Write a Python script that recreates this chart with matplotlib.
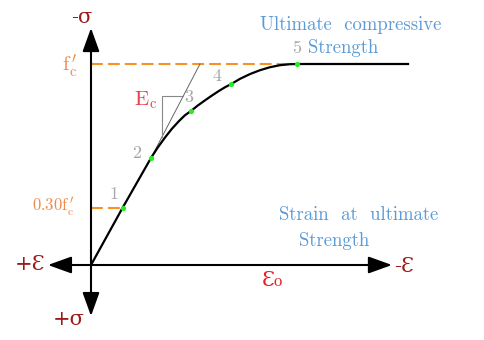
"""

Concrete stress-strain curve sketch (compression up, strain to the right).

"""

import matplotlib.pyplot as plt
import numpy as np

plt.rcParams['mathtext.fontset'] = 'cm'

# strain / eps0 and stress / f'c
strain = [0.0, 0.153, 0.291, 0.325, 0.359, 0.393, 0.427, 0.456, 0.485,
          0.519, 0.553, 0.587, 0.621, 0.650, 0.680, 0.723, 0.772, 0.820,
          0.869, 0.917, 0.966, 1.0, 1.539]
stress = [0.0, 0.284, 0.532, 0.586, 0.634, 0.678, 0.716, 0.745, 0.766,
          0.794, 0.819, 0.843, 0.866, 0.884, 0.900, 0.926, 0.950, 0.969,
          0.984, 0.994, 0.999, 1.0, 1.0]
point_idx = [1, 2, 8, 14, 21]         # the five marked points
point_labels = ['1', '2', '3', '4', '5']
label_offsets = [(-0.041, 0.069), (-0.068, 0.025), (-0.009, 0.07),
                 (-0.068, 0.04), (0.0, 0.08)]

# tangent (initial modulus) line and slope triangle
tangent_x = [0.291, 0.529]
tangent_y = [0.532, 1.0]
tri_x = [0.345, 0.345, 0.447]
tri_y = [0.637, 0.841, 0.841]

# axis extents
ax_left, ax_right = -0.209, 1.461
ax_bottom, ax_top = -0.254, 1.179

ORANGE = '#F7931E'
DARKRED = '#9B1B1B'
BLUE = '#5B9BD5'
GRAY = '#A6A6A6'


def arrow(ax, xy, xytext):
    ax.annotate('', xy=xy, xytext=xytext,
                arrowprops=dict(arrowstyle='-|>,head_length=1.0,head_width=0.36',
                                mutation_scale=14.4, lw=1.5, color='black',
                                shrinkA=0, shrinkB=0))


def main():
    fig = plt.figure(figsize=(4.85, 3.4), dpi=100)
    ax = fig.add_axes([0, 0, 1, 1])
    # pixel mapping: x = 91 + 206*e, y = 265 - 201*s
    ax.set_xlim(-91 / 206, (485 - 91) / 206)
    ax.set_ylim((265 - 340) / 201, 265 / 201)
    ax.axis('off')

    # axes with arrows
    arrow(ax, (0, ax_top), (0, 0))
    arrow(ax, (0, ax_bottom), (0, 0))
    arrow(ax, (ax_left, 0), (0, 0))
    arrow(ax, (ax_right, 0), (0, 0))

    # dashed guide lines
    ax.plot([0, strain[21]], [1.0, 1.0], color=ORANGE, lw=1.5,
            dashes=(5.7, 2.4), zorder=2)
    ax.plot([0, strain[1]], [stress[1], stress[1]], color=ORANGE, lw=1.5,
            dashes=(5.7, 2.4), zorder=2)

    # tangent and triangle
    ax.plot(tangent_x, tangent_y, color='#666666', lw=0.7, zorder=2)
    ax.plot(tri_x, tri_y, color='#888888', lw=0.8, zorder=2)

    # curve
    ax.plot(strain, stress, color='black', lw=1.6, solid_joinstyle='round',
            zorder=3)
    px = np.array(strain)[point_idx]
    py = np.array(stress)[point_idx]
    ax.scatter(px, py, s=14, color='#22EE22', zorder=4, linewidths=0)
    for x, y, lab, off in zip(px, py, point_labels, label_offsets):
        ax.text(x + off[0], y + off[1], lab, color=GRAY, fontsize=13,
                family='cmr10', ha='center', va='center')

    # axis labels
    ax.text(-0.045, 1.23, '-σ', color=DARKRED, fontsize=15,
            family='DejaVu Serif', ha='center', va='center')
    ax.text(-0.107, -0.27, '+σ', color=DARKRED, fontsize=15,
            family='DejaVu Serif', ha='center', va='center')
    ax.text(-0.296, 0.0, '+Ɛ', color=DARKRED, fontsize=15,
            family='DejaVu Serif', ha='center', va='center')
    ax.text(1.519, -0.005, '-Ɛ', color=DARKRED, fontsize=15,
            family='DejaVu Serif', ha='center', va='center')
    ax.text(0.879, -0.075, 'Ɛ₀', color='#E41E26', fontsize=15,
            family='DejaVu Serif', ha='center', va='center')

    # value labels
    ax.text(-0.102, 0.99, r"$\mathrm{f}_{\mathrm{c}}^{\,\prime}$",
            color='#F08A4B', fontsize=15, ha='center', va='center')
    ax.text(-0.184, 0.29, r"$\mathrm{0.30f}_{\mathrm{c}}^{\,\prime}$",
            color='#F08A4B', fontsize=12, ha='center', va='center')
    ax.text(0.267, 0.82, r"$\mathrm{E}_{\mathrm{c}}$",
            color='#E8414F', fontsize=15, ha='center', va='center')

    # notes
    ax.text(1.262, 1.194, 'Ultimate  compressive', color=BLUE, fontsize=13.5,
            family='cmr10', ha='center', va='center')
    ax.text(1.223, 1.08, 'Strength', color=BLUE, fontsize=13.5,
            family='cmr10', ha='center', va='center')
    ax.text(1.301, 0.249, 'Strain  at  ultimate', color=BLUE, fontsize=13.5,
            family='cmr10', ha='center', va='center')
    ax.text(1.180, 0.119, 'Strength', color=BLUE, fontsize=13.5,
            family='cmr10', ha='center', va='center')

    fig.savefig('out.png', dpi=100)


main()
